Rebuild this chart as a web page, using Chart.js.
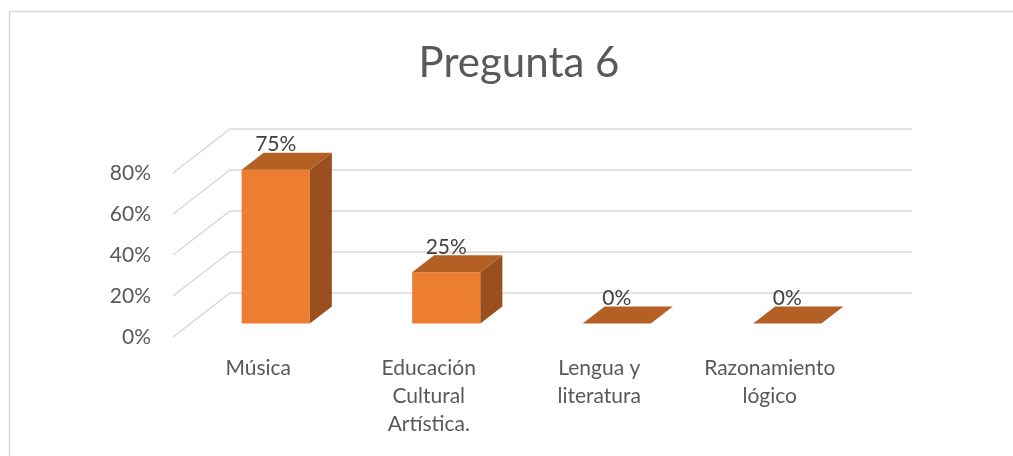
<!DOCTYPE html>
<html>
<head>
<meta charset="utf-8">
<script src="https://cdn.jsdelivr.net/npm/chart.js@4/dist/chart.umd.min.js"></script>
<style>
  html, body { margin: 0; padding: 0; background: #ffffff; overflow: hidden; }
  #wrap { width: 1013px; height: 456px; position: relative; }
</style>
</head>
<body>
<div id="wrap"><canvas id="c"></canvas></div>
<script>
// ---- data ----
const chartTitle = 'Pregunta 6';
const categories = ['Música', ['Educación', 'Cultural', 'Artística.'], ['Lengua y', 'literatura'], ['Razonamiento', 'lógico']];
const values = [0.75, 0.25, 0, 0];
const yTicks = [0, 0.2, 0.4, 0.6, 0.8];

// ---- style ----
const FONT = 'Lato';
const FRONT = '#ED7D31', TOP = '#B45F24', SIDE = '#9A4F1F';
const GRID = '#D9D9D9', TEXT = '#595959', LABEL = '#404040';
const DX = 57, DY = 44, BX = 22, BY = 17;
const OX = (DX - BX) / 2, OY = (DY - BY) / 2;
const pct = v => Math.round(v * 100) + '%';

const threeD = {
  id: 'threeD',
  afterLayout(chart) {
    const tb = chart.titleBlock;
    if (tb) { tb.left = 9; tb.right = 1029; }
  },
  beforeDraw(chart) {
    const ctx = chart.ctx;
    ctx.save();
    ctx.strokeStyle = GRID;
    ctx.lineWidth = 1.5;
    ctx.strokeRect(9.5, 11.5, 1200, 600);
    ctx.restore();
  },
  beforeDatasetsDraw(chart) {
    const ctx = chart.ctx, ys = chart.scales.y;
    const {left, right} = chart.chartArea;
    ctx.save();
    ctx.strokeStyle = GRID;
    ctx.lineWidth = 1.5;
    ys.ticks.forEach(t => {
      const py = ys.getPixelForValue(t.value);
      ctx.beginPath();
      ctx.moveTo(left, py);
      ctx.lineTo(left + DX, py - DY);
      ctx.lineTo(right + DX, py - DY);
      ctx.stroke();
    });
    ctx.restore();
  },
  beforeDatasetDraw(chart) {
    chart.ctx.save();
    chart.ctx.translate(OX, -OY);
  },
  afterDatasetDraw(chart, args) {
    const ctx = chart.ctx;
    args.meta.data.forEach(el => {
      const {x, y, base, width} = el.getProps(['x', 'y', 'base', 'width'], true);
      const l = x - width / 2, r = x + width / 2;
      if (base - y > 0.5) {
        ctx.fillStyle = SIDE;
        ctx.beginPath();
        ctx.moveTo(r, y); ctx.lineTo(r + BX, y - BY); ctx.lineTo(r + BX, base - BY); ctx.lineTo(r, base);
        ctx.closePath(); ctx.fill();
      }
      ctx.fillStyle = TOP;
      ctx.beginPath();
      ctx.moveTo(l, y); ctx.lineTo(r, y); ctx.lineTo(r + BX, y - BY); ctx.lineTo(l + BX, y - BY);
      ctx.closePath(); ctx.fill();
    });
    ctx.restore();
  },
  afterDatasetsDraw(chart) {
    const ctx = chart.ctx;
    const meta = chart.getDatasetMeta(0);
    const data = chart.data.datasets[0].data;
    ctx.save();
    ctx.font = '21px ' + FONT;
    ctx.fillStyle = LABEL;
    ctx.textAlign = 'center';
    ctx.textBaseline = 'alphabetic';
    meta.data.forEach((el, i) => {
      const {x, y} = el.getProps(['x', 'y'], true);
      ctx.fillText(pct(data[i]), x + OX, y - OY - BY - 1.5);
    });
    ctx.restore();
  }
};

new Chart(document.getElementById('c'), {
  type: 'bar',
  data: {
    labels: categories,
    datasets: [{
      data: values,
      backgroundColor: FRONT,
      borderWidth: 0,
      categoryPercentage: 0.4,
      barPercentage: 1,
      clip: false
    }]
  },
  options: {
    responsive: true,
    maintainAspectRatio: false,
    animation: false,
    layout: { padding: { left: 0, right: 158, top: 0, bottom: 0 } },
    plugins: {
      legend: { display: false },
      tooltip: { enabled: false },
      title: {
        display: true,
        text: chartTitle,
        color: TEXT,
        font: { family: FONT, size: 42, weight: 'normal', lineHeight: 1.2 },
        padding: { top: 38.3, bottom: 84.3 }
      }
    },
    scales: {
      x: {
        grid: { display: false, drawTicks: false },
        border: { display: false },
        ticks: {
          color: TEXT,
          padding: 17,
          maxRotation: 0,
          autoSkip: false,
          font: { family: FONT, size: 21, lineHeight: 28 / 21 }
        },
        afterFit(s) { s.height = 119; }
      },
      y: {
        min: 0,
        max: 0.8,
        grid: { display: false, drawTicks: false },
        border: { display: false },
        afterBuildTicks(s) { s.ticks = yTicks.map(v => ({ value: v })); },
        ticks: {
          color: TEXT,
          padding: 22,
          font: { family: FONT, size: 21 },
          callback: v => pct(v)
        },
        afterFit(s) { s.width = 173; }
      }
    }
  },
  plugins: [threeD]
});
</script>
</body>
</html>
